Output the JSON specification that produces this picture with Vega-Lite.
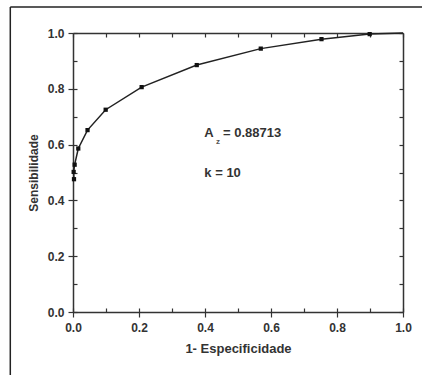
{
  "$schema": "https://vega.github.io/schema/vega-lite/v6.json",
  "width": 330,
  "height": 279,
  "autosize": {"type": "none"},
  "padding": {"left": 73, "top": 33, "right": 19, "bottom": 63},
  "background": "white",
  "config": {"view": {"stroke": null}},
  "datasets": {
    "roc": [
      {"fpr": 0.003, "tpr": 0.476},
      {"fpr": 0.002, "tpr": 0.502},
      {"fpr": 0.005, "tpr": 0.528},
      {"fpr": 0.016, "tpr": 0.586},
      {"fpr": 0.044, "tpr": 0.652},
      {"fpr": 0.099, "tpr": 0.725},
      {"fpr": 0.208, "tpr": 0.806},
      {"fpr": 0.375, "tpr": 0.885},
      {"fpr": 0.569, "tpr": 0.944},
      {"fpr": 0.753, "tpr": 0.978},
      {"fpr": 0.899, "tpr": 0.996},
      {"fpr": 1.0, "tpr": 1.0}
    ],
    "notes": [
      {"x": 0.398, "y": 0.642, "label": "A"},
      {"x": 0.4545, "y": 0.642, "label": "= 0.88713"},
      {"x": 0.398, "y": 0.4996, "label": "k = 10"}
    ],
    "sub": [
      {"x": 0.433, "y": 0.609, "label": "z"}
    ],
    "frame": [
      {"x": -0.19, "y": -0.3, "x2": -0.19, "y2": 1.093},
      {"x": -0.19, "y": 1.093, "x2": 1.1, "y2": 1.093}
    ]
  },
  "layer": [
    {
      "data": {"name": "roc"},
      "mark": {"type": "line", "color": "#222", "strokeWidth": 1.5},
      "encoding": {
        "x": {
          "field": "fpr", "type": "quantitative",
          "scale": {"domain": [0, 1], "nice": false, "zero": false},
          "axis": {
            "orient": "bottom",
            "values": [0, 0.2, 0.4, 0.6, 0.8, 1.0],
            "format": ".1f",
            "grid": false,
            "labelFont": "Liberation Sans", "labelFontWeight": "bold", "labelFontSize": 12, "labelColor": "#333",
            "labelPadding": 5, "labelFlush": false,
            "tickSize": 5, "tickColor": "#333", "tickWidth": 1.2,
            "domainColor": "#333", "domainWidth": 1.5,
            "title": "1- Especificidade",
            "titleFont": "Liberation Sans", "titleFontWeight": "bold", "titleFontSize": 13, "titleColor": "#333",
            "titlePadding": 9
          }
        },
        "y": {
          "field": "tpr", "type": "quantitative",
          "scale": {"domain": [0, 1], "nice": false, "zero": false},
          "axis": {
            "orient": "left",
            "values": [0, 0.2, 0.4, 0.6, 0.8, 1.0],
            "format": ".1f",
            "grid": false,
            "labelFont": "Liberation Sans", "labelFontWeight": "bold", "labelFontSize": 12, "labelColor": "#333",
            "labelPadding": 4, "labelFlush": false,
            "tickSize": 5, "tickColor": "#333", "tickWidth": 1.2,
            "domainColor": "#333", "domainWidth": 1.5,
            "title": "Sensibilidade",
            "titleFont": "Liberation Sans", "titleFontWeight": "bold", "titleFontSize": 12, "titleColor": "#333",
            "titlePadding": 7
          }
        },
        "order": {"field": "tpr", "type": "quantitative"}
      }
    },
    {
      "data": {"name": "roc"},
      "transform": [{"filter": "datum.fpr < 1"}],
      "mark": {"type": "point", "shape": "square", "filled": true, "color": "#111", "size": 18, "opacity": 1},
      "encoding": {
        "x": {"field": "fpr", "type": "quantitative",
          "axis": {"orient": "bottom", "values": [0, 0.1, 0.2, 0.3, 0.4, 0.5, 0.6, 0.7, 0.8, 0.9, 1.0], "labels": false, "domain": false, "grid": false, "tickSize": -4, "tickColor": "#333", "tickWidth": 1.2, "title": null}},
        "y": {"field": "tpr", "type": "quantitative",
          "axis": {"orient": "left", "values": [0, 0.1, 0.2, 0.3, 0.4, 0.5, 0.6, 0.7, 0.8, 0.9, 1.0], "labels": false, "domain": false, "grid": false, "tickSize": -4, "tickColor": "#333", "tickWidth": 1.2, "title": null}}
      }
    },
    {
      "data": {"name": "roc"},
      "mark": {"type": "point", "opacity": 0},
      "encoding": {
        "x": {"field": "fpr", "type": "quantitative",
          "axis": {"orient": "top", "values": [0, 0.1, 0.2, 0.3, 0.4, 0.5, 0.6, 0.7, 0.8, 0.9, 1.0], "labels": false, "grid": false, "tickSize": -4, "tickColor": "#333", "tickWidth": 1.2, "domainColor": "#333", "domainWidth": 1.5, "title": null}},
        "y": {"field": "tpr", "type": "quantitative",
          "axis": {"orient": "right", "values": [0, 0.1, 0.2, 0.3, 0.4, 0.5, 0.6, 0.7, 0.8, 0.9, 1.0], "labels": false, "grid": false, "tickSize": -4, "tickColor": "#333", "tickWidth": 1.2, "domainColor": "#333", "domainWidth": 1.5, "title": null}}
      }
    },
    {
      "data": {"name": "notes"},
      "mark": {"type": "text", "align": "left", "baseline": "middle", "font": "Liberation Sans", "fontWeight": "bold", "fontSize": 13, "color": "#333"},
      "encoding": {
        "x": {"field": "x", "type": "quantitative", "axis": null},
        "y": {"field": "y", "type": "quantitative", "axis": null},
        "text": {"field": "label"}
      }
    },
    {
      "data": {"name": "sub"},
      "mark": {"type": "text", "align": "left", "baseline": "middle", "font": "Liberation Sans", "fontWeight": "bold", "fontSize": 8, "color": "#555"},
      "encoding": {
        "x": {"field": "x", "type": "quantitative", "axis": null},
        "y": {"field": "y", "type": "quantitative", "axis": null},
        "text": {"field": "label"}
      }
    },
    {
      "data": {"name": "frame"},
      "mark": {"type": "rule", "color": "#222", "strokeWidth": 1.5, "clip": false},
      "encoding": {
        "x": {"field": "x", "type": "quantitative", "axis": null},
        "y": {"field": "y", "type": "quantitative", "axis": null},
        "x2": {"field": "x2"},
        "y2": {"field": "y2"}
      }
    }
  ],
  "resolve": {"axis": {"x": "independent", "y": "independent"}}
}
